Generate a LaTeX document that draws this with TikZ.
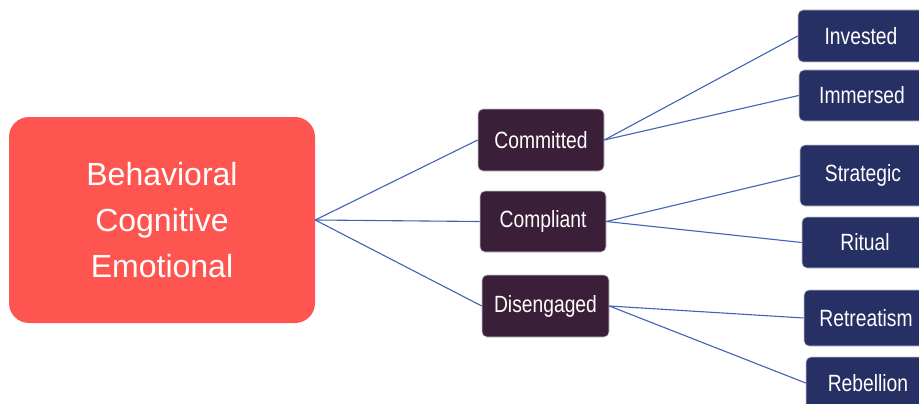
\documentclass[tikz,border=0pt]{standalone}
\usepackage{fontspec}
\setmainfont{Liberation Sans}
\newfontfamily\narrowfont[FakeStretch=0.82]{Liberation Sans}
\definecolor{mainred}{HTML}{FF5550}
\definecolor{midbox}{HTML}{3B1E38}
\definecolor{leafbox}{HTML}{263064}
\definecolor{linkblue}{HTML}{3F63B5}
\definecolor{boxedge}{HTML}{C9C3D3}
\tikzset{
  mainbox/.style={fill=mainred, rounded corners=20pt, minimum width=306pt, minimum height=206pt,
    text=white, align=center, font=\fontsize{32}{46}\selectfont, inner sep=0pt},
  midnode/.style={fill=midbox, draw=boxedge, line width=0.6pt, rounded corners=5pt,
    minimum width=126pt, minimum height=62pt, text=white, font=\narrowfont\fontsize{23.5}{27}\selectfont, inner sep=0pt},
  leafnode/.style={fill=leafbox, draw=boxedge, line width=0.6pt, rounded corners=5pt,
    minimum width=126pt, text=white, font=\narrowfont\fontsize{23.5}{27}\selectfont, inner sep=0pt},
  link/.style={draw=linkblue, line width=1.1pt}
}
\begin{document}
\begin{tikzpicture}[x=1pt,y=-1pt]
\clip (0,0) rectangle (919,404);
\fill[white] (0,0) rectangle (919,404);
\node[mainbox] (main) at (162,220) {Behavioral\\Cognitive\\Emotional};
\node[midnode] (committed) at (541,140) {Committed};
\node[midnode, minimum height=61pt] (compliant) at (543,221.5) {Compliant};
\node[midnode, minimum width=127pt] (disengaged) at (545.5,306) {Disengaged};
\node[leafnode, minimum height=52pt] (invested) at (861,36) {Invested};
\node[leafnode, minimum height=51pt] (immersed) at (862,95.5) {Immersed};
\node[leafnode, minimum height=61pt] (strategic) at (863,175.5) {Strategic};
\node[leafnode, minimum height=51pt] (ritual) at (865,242.5) {Ritual};
\node[leafnode, minimum height=56pt, minimum width=124pt] (retreatism) at (866,318) {Retreatism};
\node[leafnode, minimum height=52pt, minimum width=124pt] (rebellion) at (868,383) {Rebellion};
\coordinate (m) at (main.east);
\draw[link] (m) -- (committed.west);
\draw[link] (m) -- (compliant.west);
\draw[link] (m) -- (disengaged.west);
\draw[link] (committed.east) -- (invested.west);
\draw[link] (committed.east) -- (immersed.west);
\draw[link] (compliant.east) -- (strategic.west);
\draw[link] (compliant.east) -- (ritual.west);
\draw[link] (disengaged.east) -- (retreatism.west);
\draw[link] (disengaged.east) -- (rebellion.west);
\end{tikzpicture}
\end{document}
